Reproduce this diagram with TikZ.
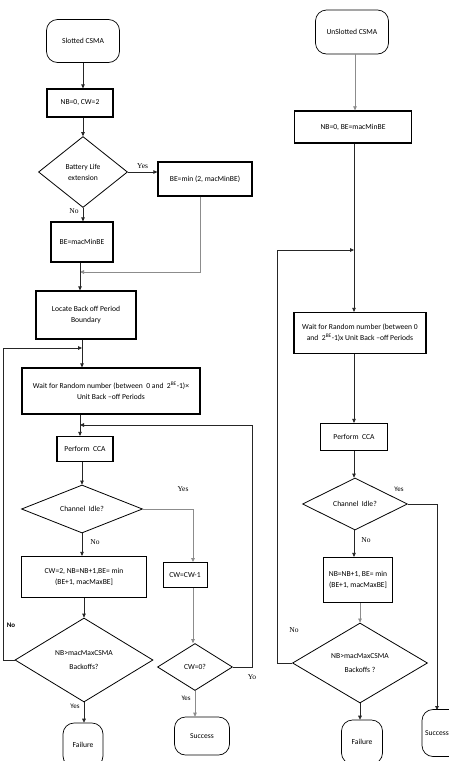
\documentclass[tikz,border=0pt]{standalone}
\usepackage{fontspec}
\setmainfont{Carlito}
\newfontfamily\serifl{Liberation Serif}
\usetikzlibrary{shapes.geometric,arrows.meta}
\tikzset{
  base/.style={font=\fontsize{7.6}{11}\selectfont, align=center, inner sep=1pt},
  proc/.style={base, draw=black, line width=1.3pt, fill=white},
  term/.style={base, draw=black, line width=0.7pt, rounded corners=11pt, fill=white},
  dec/.style={base, draw=black, line width=0.8pt, diamond, fill=white},
  conn/.style={draw=black!85, line width=0.8pt},
  lconn/.style={draw=black!45, line width=0.7pt},
  arr/.style={-{Triangle[length=4pt,width=3.6pt]}},
  lbl/.style={font=\fontsize{7.5}{8}\selectfont\serifl, inner sep=1pt},
  lbls/.style={font=\fontsize{7}{8}\selectfont, inner sep=1pt},
}
\begin{document}
\begin{tikzpicture}[x=1pt,y=-1pt]
\useasboundingbox (0,0) rectangle (449,761);
\clip (0,0) rectangle (449,761);
\fill[white] (0,0) rectangle (449,761);

% ---------- left chart ----------
\node[term, minimum width=73pt, minimum height=43pt] (s1) at (83,41) {Slotted CSMA};
\node[proc, minimum width=66pt, minimum height=28pt] (b1) at (80,103) {NB=0, CW=2};
\node[dec, minimum width=89pt, minimum height=71pt, aspect=1.25] (d1) at (83,172) {Battery Life\\extension};
\node[proc, minimum width=94pt, minimum height=34pt] (b2) at (205,179) {BE=min (2, macMinBE)};
\node[proc, minimum width=62pt, minimum height=40pt] (b3) at (82,242) {BE=macMinBE};
\node[proc, minimum width=100pt, minimum height=48pt] (l1) at (86,315) {Locate Back off Period\\Boundary};
\node[proc, minimum width=178pt, minimum height=46pt] (w1) at (111,391) {Wait for Random number (between~ 0 and~ 2\textsuperscript{BE}-1)×\\Unit Back –off Periods};
\node[proc, minimum width=56pt, minimum height=25pt] (p1) at (85,449) {Perform~ CCA};
\node[dec, minimum width=121pt, minimum height=48pt, aspect=2.5] (c1) at (82,509) {Channel~ Idle?};
\node[proc, minimum width=125pt, minimum height=41pt] (b4) at (84,577) {CW=2, NB=NB+1,BE= min\\(BE+1, macMaxBE]};
\node[proc, minimum width=44pt, minimum height=25pt, line width=0.9pt] (cw1) at (185,575) {CW=CW-1};
\node[dec, minimum width=75pt, minimum height=47pt, aspect=1.6] (d3) at (195,667) {CW=0?};
\node[term, minimum width=55pt, minimum height=38pt] (suc1) at (202,736) {Success};
\node[dec, minimum width=138pt, minimum height=84pt, aspect=1.64] (d2) at (84,660) {NB>macMaxCSMA\\[3pt]Backoffs?};
\node[term, minimum width=40pt, minimum height=44pt] (fail1) at (83,745) {Failure};

\coordinate (j1) at (80,272);
\coordinate (j2) at (82,348);
\coordinate (j3) at (80,425);

\draw[conn,arr] (s1.south -| 83,0) -- (b1.north -| 83,0);
\draw[conn,arr] (b1.south -| 83,0) -- (d1.north);
\draw[conn,arr] (d1.east) -- node[lbl, above=2pt] {Yes} (b2.west |- d1.east);
\draw[conn,arr] (d1.south) -- node[lbl, pos=0.2, left=3pt] {No} (b3.north -| d1.south);
\draw[lconn,arr] (b2.south -| 200,0) |- (j1);
\draw[conn] (b3.south -| j1) -- (j1);
\draw[conn,arr] (j1) -- (l1.north -| j1);
\draw[conn] (l1.south -| j2) -- (j2);
\draw[conn,arr] (j2) -- (w1.north -| j2);
\draw[conn] (w1.south -| j3) -- (j3);
\draw[conn,arr] (j3) -- (p1.north -| j3);
\draw[conn,arr] (p1.south -| c1.north) -- (c1.north);
\draw[lconn,arr] (c1.east) -| (cw1.north -| 193,0);
\node[lbl] at (183,489) {Yes};
\draw[conn,arr] (c1.south) -- node[lbl, pos=0.4, right=7pt] {No} (b4.north -| c1.south);
\draw[lconn,arr] (cw1.south -| 193,0) -- (d3.north -| 193,0);
\draw[conn,arr] (d3.east) -- (252,667) -- (252,425) -- (j3);
\node[lbl] at (252,677) {Yo};
\draw[lconn,arr] (d3.south) -- node[lbls, pos=0.3, left=3pt] {Yes} (suc1.north -| d3.south);
\draw[conn,arr] (b4.south -| d2.north) -- (d2.north);
\draw[conn,arr] (d2.west) -- (3,660) -- (3,348) -- (j2);
\node[lbls, font=\fontsize{7}{8}\selectfont\bfseries] at (11,625) {No};
\draw[conn,arr] (d2.south) -- node[lbls, pos=0.2, left=3pt] {Yes} (fail1.north -| d2.south);

% ---------- right chart ----------
\node[term, minimum width=73pt, minimum height=44pt] (s2) at (352,32) {UnSlotted CSMA};
\node[proc, minimum width=117pt, minimum height=32pt] (b5) at (353,127) {NB=0, BE=macMinBE};
\node[proc, minimum width=132pt, minimum height=41pt] (w2) at (360,333) {Wait for Random number (between 0\\and~ 2\textsuperscript{BE}-1)x Unit Back –off Periods};
\node[proc, minimum width=67pt, minimum height=27pt] (p2) at (354,437) {Perform~ CCA};
\node[dec, minimum width=105pt, minimum height=52pt, aspect=2] (c2) at (355,504) {Channel~ Idle?};
\node[proc, minimum width=69pt, minimum height=45pt] (b6) at (358,580) {NB=NB+1, BE= min\\(BE+1, macMaxBE]};
\node[dec, minimum width=135pt, minimum height=80pt, aspect=1.7] (d4) at (360,663) {NB>macMaxCSMA\\[3pt]Backoffs ?};
\node[term, minimum width=41pt, minimum height=44pt] (fail2) at (362,742) {Failure};
\node[term, minimum width=56pt, minimum height=47pt] (suc2) at (450,733) {\hspace*{-26pt}Success};

\coordinate (j4) at (354,250);
\draw[lconn,arr] (s2.south -| 355,0) -- (b5.north -| 355,0);
\draw[conn] (b5.south -| j4) -- (j4);
\draw[conn,arr] (j4) -- (w2.north -| j4);
\draw[conn,arr] (w2.south -| 354,0) -- (p2.north -| 354,0);
\draw[conn,arr] (p2.south -| 354,0) -- (c2.north -| 354,0);
\draw[conn,arr] (c2.east) -| (437,710);
\node[lbls] at (399,489) {Yes};
\draw[conn,arr] (c2.south -| 354,0) -- node[lbl, pos=0.35, right=6pt] {No} (b6.north -| 354,0);
\draw[lconn,arr] (b6.south -| d4.north) -- (d4.north);
\draw[conn,arr] (d4.west) -- (277,663) -- (277,250) -- (j4);
\node[lbl] at (294,630) {No};
\draw[conn,arr] (d4.south) -- (fail2.north -| d4.south);
\end{tikzpicture}
\end{document}
